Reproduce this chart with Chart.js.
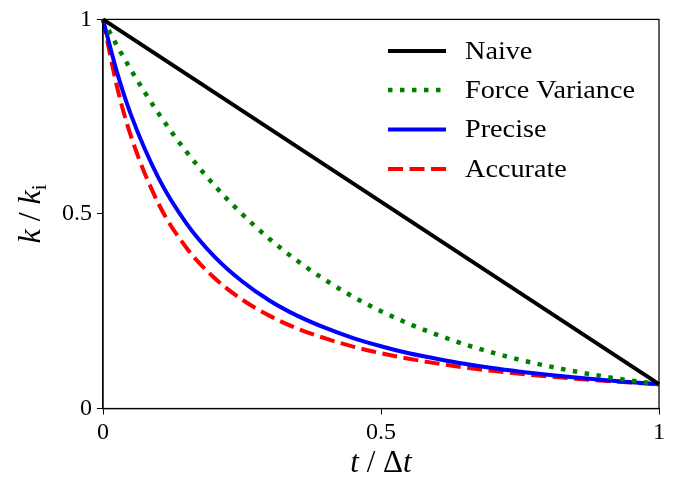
<!DOCTYPE html>
<html>
<head>
<meta charset="utf-8">
<script src="https://cdn.jsdelivr.net/npm/chart.js@4/dist/chart.umd.min.js"></script>
<style>
  html, body { margin: 0; padding: 0; background: #fff; }
  #wrap { width: 674px; height: 478px; }
</style>
</head>
<body>
<div id="wrap"><canvas id="c" width="674" height="478"></canvas></div>
<script>
// ---- data ----
const tValues = [0, 0.025, 0.05, 0.1, 0.15, 0.2, 0.25, 0.3, 0.35, 0.4, 0.45, 0.5, 0.55, 0.6, 0.65, 0.7, 0.75, 0.8, 0.85, 0.9, 0.95, 1];
const naiveT = [0, 1];
const naiveK = [1, 0.0625];
const forceVarianceK = [1, 0.933, 0.871, 0.758, 0.660, 0.574, 0.500, 0.435, 0.379, 0.330, 0.287, 0.250, 0.218, 0.190, 0.165, 0.144, 0.125, 0.109, 0.095, 0.0825, 0.0718, 0.0625];
const preciseK = [1, 0.865, 0.756, 0.592, 0.476, 0.391, 0.327, 0.277, 0.238, 0.207, 0.181, 0.160, 0.142, 0.128, 0.115, 0.104, 0.0947, 0.0865, 0.0794, 0.0730, 0.0675, 0.0625];
const accurateK = [1, 0.828, 0.701, 0.526, 0.413, 0.336, 0.280, 0.238, 0.205, 0.180, 0.159, 0.142, 0.128, 0.116, 0.1055, 0.0967, 0.0891, 0.0824, 0.0765, 0.0713, 0.0667, 0.0625];
const xTicks = [0, 0.5, 1];
const yTicks = [0, 0.5, 1];
const seriesNames = ["Naive", "Force Variance", "Precise", "Accurate"];

const pts = (xs, ys) => xs.map((x, i) => ({ x: x, y: ys[i] }));
const SERIF = "'Liberation Serif', 'DejaVu Serif', serif";

const frameAndText = {
  id: 'frameAndText',
  afterDatasetsDraw(chart) {
    const ctx = chart.ctx;
    const a = chart.chartArea;
    ctx.save();
    // frame
    ctx.strokeStyle = '#000';
    ctx.lineWidth = 1.25;
    ctx.strokeRect(a.left, a.top, a.right - a.left, a.bottom - a.top);

    // legend
    const ds = chart.data.datasets;
    const lx0 = 388, lx1 = 446, tx = 465;
    const rows = [51, 90, 129.5, 169];
    ctx.font = "25px " + SERIF;
    const sx = 170 / ctx.measureText("Force Variance").width;
    ctx.textBaseline = 'middle';
    ctx.textAlign = 'left';
    ds.forEach((d, i) => {
      ctx.beginPath();
      ctx.strokeStyle = d.borderColor;
      ctx.lineWidth = d.borderWidth;
      ctx.setLineDash(d.borderDash || []);
      ctx.lineCap = 'butt';
      ctx.moveTo(lx0, rows[i]);
      ctx.lineTo(lx1, rows[i]);
      ctx.stroke();
      ctx.setLineDash([]);
      ctx.fillStyle = '#000';
      ctx.save();
      ctx.translate(tx, rows[i] + 1);
      ctx.scale(sx, 1);
      ctx.fillText(d.label, 0, 0);
      ctx.restore();
    });

    // x axis title: t / Δt
    ctx.fillStyle = '#000';
    ctx.textBaseline = 'alphabetic';
    const base = 472;
    const parts = [["italic 31px " + SERIF, "t"], ["31px " + SERIF, " / Δ"], ["italic 31px " + SERIF, "t"]];
    let w = 0;
    parts.forEach(p => { ctx.font = p[0]; w += ctx.measureText(p[1]).width; });
    let x = (a.left + a.right) / 2 - w / 2;
    parts.forEach(p => { ctx.font = p[0]; ctx.fillText(p[1], x, base); x += ctx.measureText(p[1]).width; });

    // y axis title: k / k_i
    ctx.translate(40, (a.top + a.bottom) / 2);
    ctx.rotate(-Math.PI / 2);
    const yp = [["italic 32px " + SERIF, "k", 0], ["32px " + SERIF, " / ", 0], ["italic 32px " + SERIF, "k", 0], ["21px " + SERIF, "i", 6]];
    w = 0;
    yp.forEach(p => { ctx.font = p[0]; w += ctx.measureText(p[1]).width; });
    x = -w / 2;
    yp.forEach(p => { ctx.font = p[0]; ctx.fillText(p[1], x, p[2]); x += ctx.measureText(p[1]).width; });
    ctx.restore();
  }
};

new Chart(document.getElementById('c'), {
  type: 'line',
  data: {
    datasets: [
      { label: seriesNames[0], data: pts(naiveT, naiveK), borderColor: '#000000', borderWidth: 4, pointRadius: 0, fill: false, clip: false },
      { label: seriesNames[1], data: pts(tValues, forceVarianceK), borderColor: '#008000', borderWidth: 4.5, borderDash: [4.5, 7.5], pointRadius: 0, fill: false, cubicInterpolationMode: 'monotone', clip: false },
      { label: seriesNames[2], data: pts(tValues, preciseK), borderColor: '#0000ff', borderWidth: 4, pointRadius: 0, fill: false, cubicInterpolationMode: 'monotone', clip: false },
      { label: seriesNames[3], data: pts(tValues, accurateK), borderColor: '#ff0000', borderWidth: 4, borderDash: [15, 6.5], pointRadius: 0, fill: false, cubicInterpolationMode: 'monotone', clip: false }
    ]
  },
  options: {
    responsive: false,
    animation: false,
    layout: { padding: { left: 0, top: 17.5, right: 15, bottom: 0 } },
    plugins: { legend: { display: false }, tooltip: { enabled: false } },
    scales: {
      x: {
        type: 'linear', min: 0, max: 1,
        afterBuildTicks(s) { s.ticks = xTicks.map(v => ({ value: v })); },
        afterFit(s) { s.height = 69.5; },
        grid: { display: true, drawOnChartArea: false, drawTicks: true, tickLength: 6, color: '#000', lineWidth: 1 },
        border: { display: true, color: '#000', width: 1.25 },
        ticks: { color: '#000', padding: 4, maxRotation: 0, font: { family: SERIF, size: 24 }, callback: v => String(v) }
      },
      y: {
        type: 'linear', min: 0, max: 1,
        afterBuildTicks(s) { s.ticks = yTicks.map(v => ({ value: v })); },
        afterFit(s) { s.width = 103; },
        grid: { display: true, drawOnChartArea: false, drawTicks: true, tickLength: 6, color: '#000', lineWidth: 1 },
        border: { display: true, color: '#000', width: 1.25 },
        ticks: { color: '#000', padding: 5, font: { family: SERIF, size: 24 }, callback: v => String(v) }
      }
    }
  },
  plugins: [frameAndText]
});
</script>
</body>
</html>
